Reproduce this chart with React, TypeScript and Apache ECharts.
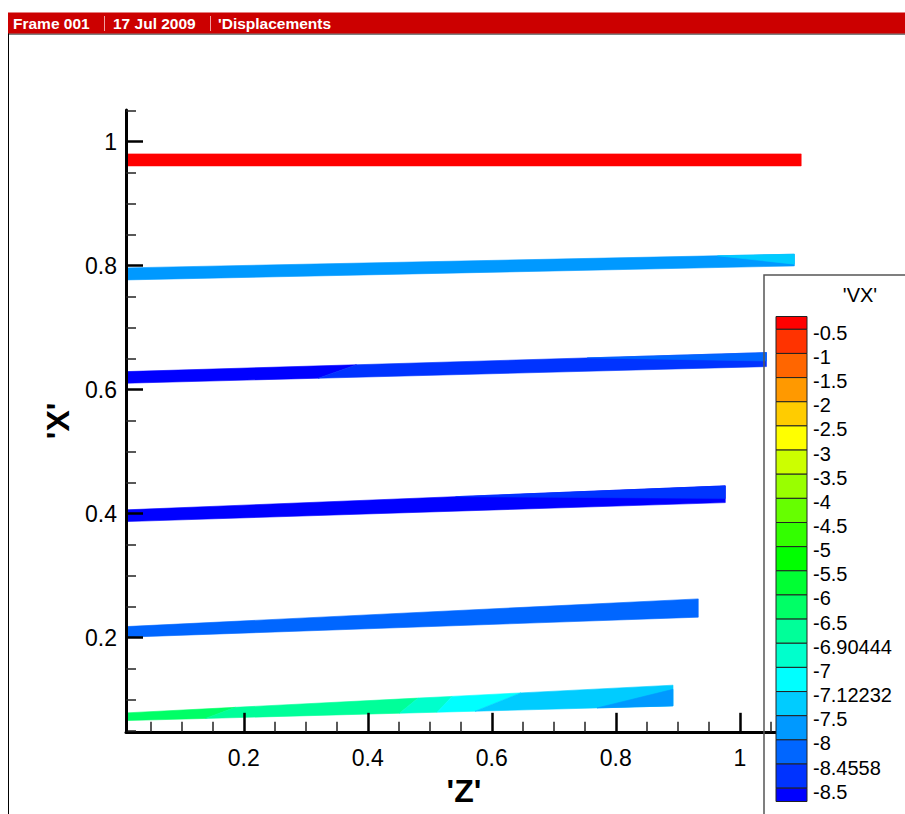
import React, { useEffect, useRef } from "react";
import * as echarts from "echarts";

const FONT = '"Liberation Sans", Arial, Helvetica, sans-serif';

// Axis tick values
const xTicks = [0.2, 0.4, 0.6, 0.8, 1.0];

// Deformed beams: Z at both ends, X of bottom/top edge at both ends
const bandZStart = [0.01, 0.01, 0.01, 0.01, 0.01, 0.01];
const bandZEnd = [1.099, 1.088, 1.043, 0.9766, 0.933, 0.8923];
const bandBottomStart = [0.9608, 0.7769, 0.6103, 0.3871, 0.2006, 0.0661];
const bandTopStart = [0.9802, 0.7963, 0.629, 0.406, 0.2177, 0.0785];
const bandBottomEnd = [0.9608, 0.7995, 0.6371, 0.4177, 0.2329, 0.0898];
const bandTopEnd = [0.9802, 0.8184, 0.6597, 0.4447, 0.2624, 0.1232];

// 'VX' contour levels and band colours (one more colour than levels)
const vxLevels = [
  "-0.5", "-1", "-1.5", "-2", "-2.5", "-3", "-3.5", "-4", "-4.5", "-5",
  "-5.5", "-6", "-6.5", "-6.90444", "-7", "-7.12232", "-7.5", "-8", "-8.4558", "-8.5",
];
const vxColors = [
  "#ff0000", "#ff3300", "#ff6600", "#ff9900", "#ffcc00", "#ffff00", "#ccff00",
  "#99ff00", "#66ff00", "#33ff00", "#00ff00", "#00ff33", "#00ff66", "#00ff99",
  "#00ffcc", "#00ffff", "#00ccff", "#0099ff", "#0066ff", "#0033ff", "#0000ff",
];

// Contour patches on each beam: [colour index, polygon in (along, across) fractions]
type Patch = [number, number[][]];
const FULL = [[0, 0], [1, 0], [1, 1], [0, 1]];
const bandPatches: Patch[][] = [
  [[0, FULL]],
  [
    [17, FULL],
    [16, [[0.885, 1], [1, 1], [1, 0.15]]],
  ],
  [
    [20, [[0, 0], [0.3, 0], [0.36, 1], [0, 1]]],
    [19, [[0.3, 0], [1, 0], [1, 1], [0.36, 1]]],
    [18, [[0.72, 1], [1, 1], [1, 0.4]]],
  ],
  [
    [20, FULL],
    [19, [[0.55, 1], [1, 1], [1, 0.25]]],
  ],
  [[18, FULL]],
  [
    [12, [[0, 0], [0.145, 0], [0.2, 1], [0, 1]]],
    [13, [[0.145, 0], [0.5, 0], [0.534, 1], [0.2, 1]]],
    [14, [[0.5, 0], [0.569, 0], [0.596, 1], [0.534, 1]]],
    [15, [[0.569, 0], [0.638, 0], [0.722, 1], [0.596, 1]]],
    [16, [[0.638, 0], [1, 0], [1, 1], [0.722, 1]]],
    [17, [[0.861, 0], [1, 0], [1, 0.8]]],
  ],
];

function bandPoint(i: number, t: number, s: number): number[] {
  const z = bandZStart[i] + t * (bandZEnd[i] - bandZStart[i]);
  const bottom = bandBottomStart[i] + t * (bandBottomEnd[i] - bandBottomStart[i]);
  const top = bandTopStart[i] + t * (bandTopEnd[i] - bandTopStart[i]);
  return [z, bottom + s * (top - bottom)];
}

function buildGraphics(): any[] {
  const els: any[] = [];
  // frame border
  els.push({
    type: "line",
    shape: { x1: 8.5, y1: 13, x2: 8.5, y2: 814 },
    style: { stroke: "#000", lineWidth: 1 },
    z: 100,
  });
  els.push({
    type: "line",
    shape: { x1: 8, y1: 34, x2: 905, y2: 34 },
    style: { stroke: "#000", lineWidth: 1.2 },
    z: 100,
  });
  // header bar
  els.push({
    type: "rect",
    shape: { x: 8, y: 12.5, width: 897, height: 21 },
    style: { fill: "#cc0000" },
    z: 100,
  });
  const headerTexts = [
    { x: 13, text: "Frame 001" },
    { x: 113, text: "17 Jul 2009" },
    { x: 218, text: "'Displacements" },
  ];
  headerTexts.forEach((h) => {
    els.push({
      type: "text",
      x: h.x,
      y: 23.5,
      style: {
        text: h.text,
        fill: "#fff",
        font: `bold 15.5px ${FONT}`,
        verticalAlign: "middle",
        align: "left",
      },
      z: 101,
    });
  });
  [104.5, 210.5].forEach((x) => {
    els.push({
      type: "line",
      shape: { x1: x, y1: 16, x2: x, y2: 31 },
      style: { stroke: "#f0a0a0", lineWidth: 1 },
      z: 101,
    });
  });

  // contour legend
  els.push({
    type: "rect",
    shape: { x: 764, y: 275, width: 200, height: 600 },
    style: { fill: "none", stroke: "#555", lineWidth: 1.5 },
    z: 100,
  });
  els.push({
    type: "text",
    x: 860,
    y: 295,
    style: {
      text: "'VX'",
      fill: "#000",
      font: `20px ${FONT}`,
      align: "center",
      verticalAlign: "middle",
    },
    z: 101,
  });
  const barTop = 316.5;
  const barBottom = 801.5;
  const firstEdge = 329.3;
  const step = 24.15;
  const edges = vxLevels.map((_, i) => firstEdge + i * step);
  vxColors.forEach((c, k) => {
    const y0 = k === 0 ? barTop : edges[k - 1];
    const y1 = k === vxColors.length - 1 ? barBottom : edges[k];
    els.push({
      type: "rect",
      shape: { x: 776, y: y0, width: 31, height: y1 - y0 },
      style: { fill: c, stroke: "#222", lineWidth: 1 },
      z: 101,
    });
  });
  vxLevels.forEach((lab, i) => {
    els.push({
      type: "text",
      x: 813,
      y: edges[i] + 3.5,
      style: {
        text: lab,
        fill: "#000",
        font: `20px ${FONT}`,
        align: "left",
        verticalAlign: "middle",
      },
      z: 101,
    });
  });
  return els;
}

export default function App() {
  const ref = useRef<HTMLDivElement>(null);
  useEffect(() => {
    if (!ref.current) return;
    const chart = echarts.init(ref.current, null, { renderer: "svg" });
    const axisLabelStyle = { fontFamily: FONT, fontSize: 23, color: "#000" };
    const nameStyle = { fontFamily: FONT, fontSize: 32, fontWeight: "bold", color: "#000" };
    chart.setOption({
      animation: false,
      backgroundColor: "#fff",
      grid: {
        left: 126,
        top: 110,
        width: 675.8,
        height: 621.8,
        outerBoundsMode: "none",
      },
      xAxis: {
        type: "value",
        z: 5,
        min: 0.01,
        max: 1.1,
        name: "'Z'",
        nameLocation: "middle",
        nameGap: 34,
        nameTextStyle: nameStyle,
        axisLine: { show: true, onZero: false, lineStyle: { color: "#000", width: 3 } },
        axisTick: {
          show: true,
          inside: true,
          length: 19,
          lineStyle: { color: "#000", width: 2.5 },
        },
        minorTick: { show: true, splitNumber: 4, length: 10, lineStyle: { color: "#222", width: 1.5 } },
        axisLabel: {
          ...axisLabelStyle,
          margin: 15,
          showMinLabel: false,
          showMaxLabel: false,
        },
        splitLine: { show: false },
      },
      yAxis: {
        type: "value",
        z: 5,
        min: 0.048,
        max: 1.051,
        name: "'X'",
        nameLocation: "middle",
        nameGap: 48,
        nameRotate: 90,
        nameTextStyle: nameStyle,
        axisLine: { show: true, onZero: false, lineStyle: { color: "#000", width: 3 } },
        axisTick: {
          show: true,
          inside: true,
          length: 17,
          customValues: xTicks,
          lineStyle: { color: "#000", width: 2.5 },
        },
        minorTick: { show: true, splitNumber: 4, length: 10, lineStyle: { color: "#222", width: 1.5 } },
        axisLabel: { ...axisLabelStyle, customValues: xTicks, margin: 9 },
        splitLine: { show: false },
      },
      series: [
        {
          type: "custom",
          coordinateSystem: "cartesian2d",
          silent: true,
          z: 1,
          data: bandZEnd.map((ze, i) => [bandZStart[i], bandBottomStart[i], ze, bandTopEnd[i]]),
          renderItem: (params: any, api: any) => {
            const i = params.dataIndex;
            const children = bandPatches[i].map(([ci, poly]) => ({
              type: "polygon",
              shape: { points: poly.map(([t, s]) => api.coord(bandPoint(i, t, s))) },
              style: { fill: vxColors[ci], stroke: vxColors[ci], lineWidth: 0.6 },
            }));
            return { type: "group", children };
          },
        },
      ],
      graphic: { elements: buildGraphics() },
    });
    return () => chart.dispose();
  }, []);
  return (
    <div
      ref={ref}
      style={{ position: "absolute", left: 0, top: 0, width: 905, height: 814 }}
    />
  );
}
